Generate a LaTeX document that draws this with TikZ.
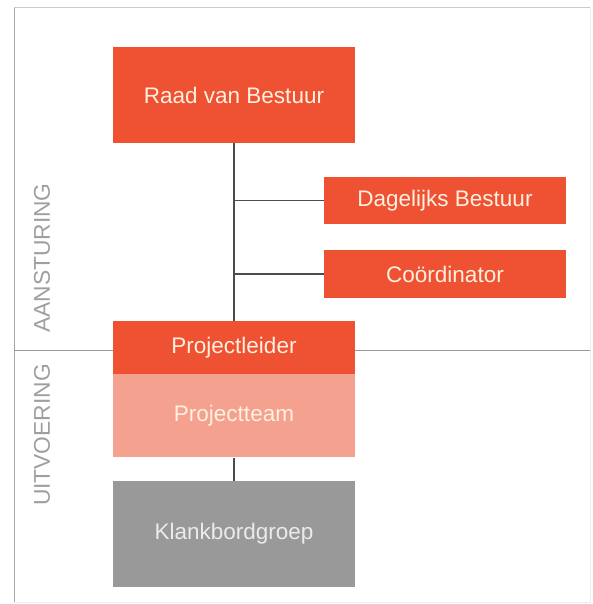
\documentclass[tikz,border=0pt]{standalone}
\usepackage{fontspec}
\setmainfont{Liberation Sans}
\usetikzlibrary{positioning}

\definecolor{oranjerood}{HTML}{EE5232}
\definecolor{zalm}{HTML}{F4A18F}
\definecolor{grijs}{HTML}{999999}

\begin{document}
\begin{tikzpicture}[x = 1pt, y = -1pt,
		blok/.style = {fill = oranjerood, text = white!88!orange, inner sep = 0pt,
			minimum width = \bw pt, font = \fontsize{22.5}{26}\selectfont},
		zijlabel/.style = {text = gray!75, rotate = 90, font = \fontsize{22.8}{26}\selectfont},
		lijn/.style = {draw = black!70, line width = 1.3pt}]
				%	maten
				
				\def\bw{242}
				\def\xl{14}
				\def\xr{590}
				\def\yt{8}
				\def\yb{602}
				
				\useasboundingbox (0, 0) rectangle (592, 604);
				
				%	kader
				\draw[gray!15, line width = 1pt] (\xl, \yt) rectangle (\xr, \yb);
				\draw[gray!40, line width = 1pt] (\xl, \yt) -- (\xr, \yt);
				\draw[gray!70, line width = 1pt] (\xl, \yt) -- (\xl, \yb);
				\draw[gray!80, line width = 1pt] (\xl, 350) -- (\xr, 350);
				
				%	aansturing
				\node[blok, minimum height = 96pt] (raad) at (234, 95) {Raad van Bestuur};
				\node[blok, minimum height = 47pt] (dagelijks) at (445, 200.5) {Dagelijks Bestuur};
				\node[blok, minimum height = 48pt] (coord) at (445, 274) {Coördinator};
				
				%	uitvoering
				\node[blok, minimum height = 53pt] (leider) at (234, 347.5) {Projectleider};
				\node[blok, fill = zalm, minimum height = 83pt, below = 0pt of leider] (team) {Projectteam};
				\node[blok, fill = grijs, text = white!92!black, minimum height = 106pt] (klank) at (234, 534) {Klankbordgroep};
				
				%	lijnen
				\draw[lijn] (raad.south) -- (leider.north);
				\draw[lijn] (dagelijks.west) -- (dagelijks.west -| raad.south);
				\draw[lijn] (coord.west) -- (coord.west -| raad.south);
				\draw[lijn] (team.south) -- (klank.north);
				
				%	zijkant
				\node[zijlabel] (aansturing) at (42, 258) {AANSTURING};
				\node[zijlabel] (uitvoering) at (42, 435) {UITVOERING};
\end{tikzpicture}
\end{document}
